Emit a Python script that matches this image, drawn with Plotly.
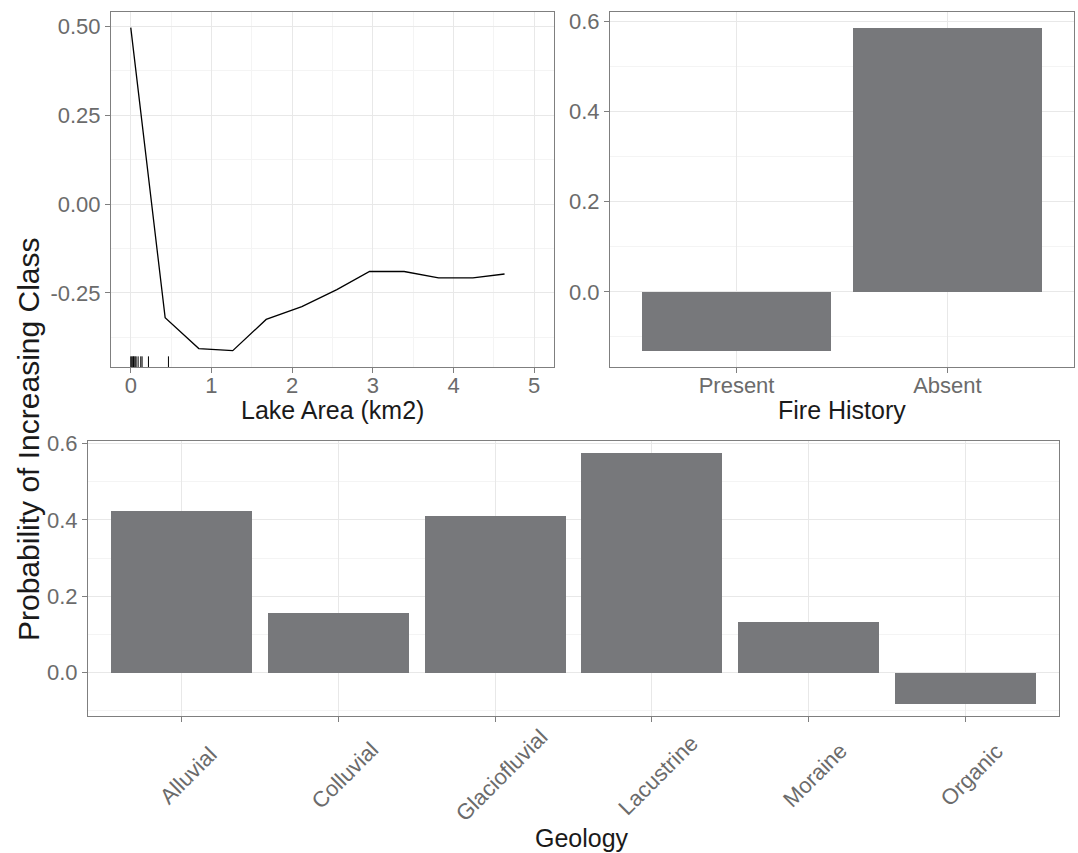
import plotly.graph_objects as go

# ---- data ----
lake_area = [0.0, 0.426, 0.843, 1.264, 1.678, 2.12, 2.554, 2.959, 3.388, 3.814, 4.24, 4.632]
lake_effect = [0.497, -0.320, -0.407, -0.413, -0.325, -0.289, -0.241, -0.190, -0.190, -0.208, -0.208, -0.197]
lake_rug = [0.0, 0.012, 0.025, 0.033, 0.041, 0.054, 0.066, 0.091, 0.124, 0.14, 0.219, 0.467]

fire_cats = ["Present", "Absent"]
fire_vals = [-0.131, 0.587]

geo_cats = ["Alluvial", "Colluvial", "Glaciofluvial", "Lacustrine", "Moraine", "Organic"]
geo_vals = [0.4235, 0.156, 0.412, 0.575, 0.134, -0.080]

W, H = 1078, 853
FONT = "Liberation Sans, Arial, sans-serif"
BAR = "#77787b"
TICKC = "#6b6b6b"
BORDER = "#7f7f7f"
GRID = "#e8e8e8"
MINOR = "#f4f4f4"

def px_x(a, b):
    return [a / W, b / W]

def px_y(top, bottom):
    return [1 - bottom / H, 1 - top / H]

fig = go.Figure()

fig.add_trace(go.Scatter(x=lake_area, y=lake_effect, mode="lines",
                         line=dict(color="black", width=1.3),
                         xaxis="x", yaxis="y", showlegend=False, hoverinfo="skip"))
fig.add_trace(go.Bar(x=fire_cats, y=fire_vals, marker=dict(color=BAR, line=dict(width=0)),
                     width=0.9, xaxis="x2", yaxis="y2", showlegend=False))
fig.add_trace(go.Bar(x=geo_cats, y=geo_vals, marker=dict(color=BAR, line=dict(width=0)),
                     width=0.9, xaxis="x3", yaxis="y3", showlegend=False))

# rug marks
for v in lake_rug:
    fig.add_shape(type="line", xref="x", yref="y domain", x0=v, x1=v, y0=0, y1=0.03,
                  line=dict(color="black", width=1))

common = dict(showline=True, mirror=True, linecolor=BORDER, linewidth=1,
              ticks="outside", ticklen=5, tickcolor=BORDER, tickwidth=1,
              showgrid=True, gridcolor=GRID, gridwidth=1, zeroline=False, automargin=False,
              tickfont=dict(family=FONT, size=22, color=TICKC))

dom1x = px_x(111, 554)
dom2x = px_x(610, 1074)
dom3x = px_x(88, 1059)
domtop = px_y(12, 367)
dombot = px_y(440.7, 715.7)

fig.update_layout(
    width=W, height=H, margin=dict(l=0, r=0, t=0, b=0, autoexpand=False),
    paper_bgcolor="white", plot_bgcolor="white",
    bargap=0,
    xaxis=dict(domain=dom1x, anchor="y", range=[-0.245, 5.245], tickmode="linear", tick0=0, dtick=1,
               ticklabelstandoff=-6,
               minor=dict(dtick=0.5, tick0=0, showgrid=True, gridcolor=MINOR, gridwidth=1, ticklen=0),
               **common),
    yaxis=dict(domain=domtop, anchor="x", range=[-0.459, 0.541], tickvals=[-0.25, 0, 0.25, 0.5],
               ticktext=["-0.25", "0.00", "0.25", "0.50"],
               minor=dict(tickvals=[-0.375, -0.125, 0.125, 0.375], showgrid=True, gridcolor=MINOR, gridwidth=1, ticklen=0),
               **common),
    xaxis2=dict(domain=dom2x, anchor="y2", range=[-0.6, 1.6], type="category", ticklabelstandoff=-6, **common),
    yaxis2=dict(domain=domtop, anchor="x2", range=[-0.167, 0.6216], tickvals=[0, 0.2, 0.4, 0.6],
                ticktext=["0.0", "0.2", "0.4", "0.6"],
                minor=dict(tickvals=[-0.1, 0.1, 0.3, 0.5], showgrid=True, gridcolor=MINOR, gridwidth=1, ticklen=0),
                **common),
    xaxis3=dict(domain=dom3x, anchor="y3", range=[-0.6, 5.6], type="category", showticklabels=False, **common),
    yaxis3=dict(domain=dombot, anchor="x3", range=[-0.1124, 0.607], tickvals=[0, 0.2, 0.4, 0.6],
                ticktext=["0.0", "0.2", "0.4", "0.6"],
                minor=dict(tickvals=[-0.1, 0.1, 0.3, 0.5], showgrid=True, gridcolor=MINOR, gridwidth=1, ticklen=0),
                **common),
)

# rotated category labels for the geology axis
for c in geo_cats:
    fig.add_annotation(x=c, xref="x3", y=1 - 775 / H, yref="paper", text=c, showarrow=False,
                       textangle=-45, xanchor="center", yanchor="middle", xshift=6,
                       font=dict(family=FONT, size=22, color=TICKC))

TITLE = dict(family=FONT, size=25, color="#1a1a1a")
fig.add_annotation(x=(111 + 554) / 2 / W, y=1 - 410 / H, xref="paper", yref="paper",
                   text="Lake Area (km2)", showarrow=False, font=TITLE, xanchor="center", yanchor="middle")
fig.add_annotation(x=(610 + 1074) / 2 / W, y=1 - 410 / H, xref="paper", yref="paper",
                   text="Fire History", showarrow=False, font=TITLE, xanchor="center", yanchor="middle")
fig.add_annotation(x=582 / W, y=1 - 838 / H, xref="paper", yref="paper",
                   text="Geology", showarrow=False, font=TITLE, xanchor="center", yanchor="middle")
fig.add_annotation(x=28 / W, y=1 - 439 / H, xref="paper", yref="paper",
                   text="Probability of Increasing Class", showarrow=False, textangle=-90,
                   font=dict(family=FONT, size=30, color="#1a1a1a"), xanchor="center", yanchor="middle")

fig.write_html("out.html")
